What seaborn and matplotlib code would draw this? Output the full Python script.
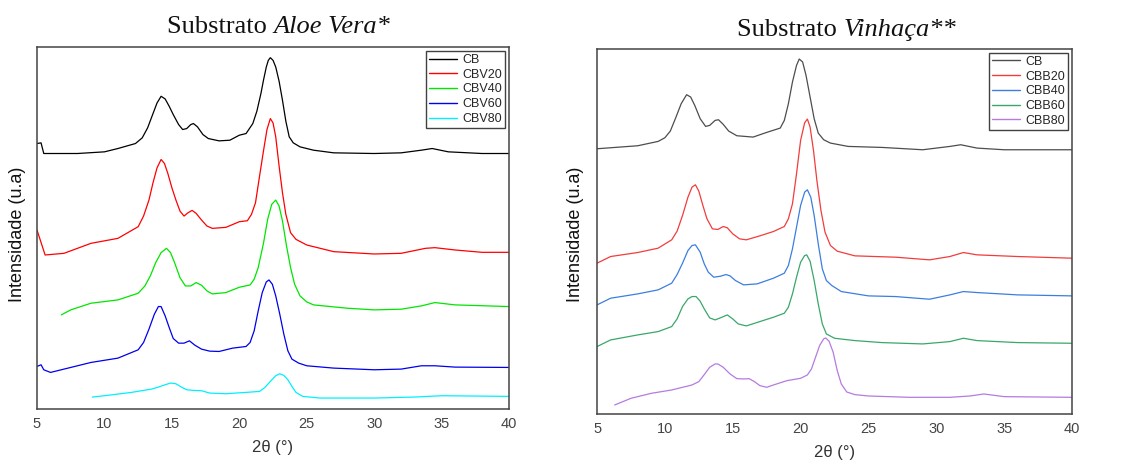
import numpy as np
import pandas as pd
import matplotlib
matplotlib.use("Agg")
import matplotlib.pyplot as plt
import seaborn as sns

# ---- data (intensity in arbitrary units) ----
# Substrato Aloe Vera
aloe_labels = ["CB", "CBV20", "CBV40", "CBV60", "CBV80"]
aloe_colors = ["#000000", "#ff0000", "#00e600", "#0000ee", "#00f0ff"]

cb_a_x = [5.0, 5.3, 5.5, 6, 8, 10, 11, 12.3, 12.8, 13.2, 13.6, 13.9, 14.2, 14.5, 14.8, 15.1, 15.5, 15.8, 16.1,
          16.4, 16.6, 16.9, 17.3, 17.7, 18.5, 19.3, 20, 20.5, 21.0, 21.3, 21.6, 21.8, 22.0, 22.15, 22.3, 22.5,
          22.7, 22.95, 23.2, 23.45, 23.7, 24.0, 24.5, 25.5, 27, 30, 32, 33.5, 34.3, 35.5, 38, 40]
cb_a_y = [798, 800, 768, 768, 768, 773, 783, 798, 815, 845, 888, 920, 940, 932, 910, 885, 855, 840, 843,
          855, 858, 848, 825, 813, 806, 808, 823, 828, 858, 895, 948, 990, 1028, 1048, 1056, 1048,
          1028, 985, 928, 865, 818, 800, 788, 778, 770, 768, 770, 778, 783, 773, 768, 768]

cbv20_x = [5, 5.6, 7, 9, 11, 12.5, 12.9, 13.3, 13.6, 13.9, 14.2, 14.45, 14.7, 15.0, 15.3, 15.6, 15.9, 16.2,
           16.5, 16.8, 17.2, 17.6, 18, 19, 20, 20.6, 20.9, 21.2, 21.5, 21.8, 22.05, 22.3, 22.5, 22.7, 22.95,
           23.2, 23.45, 23.8, 24.2, 25, 27, 30, 32, 33.8, 34.5, 36, 38, 40]
cbv20_y = [538, 463, 468, 498, 513, 548, 580, 628, 680, 725, 750, 738, 708, 665, 628, 595, 580, 590,
           597, 588, 568, 550, 543, 546, 563, 566, 585, 620, 700, 778, 840, 873, 860, 818, 730,
           650, 585, 530, 510, 493, 473, 466, 468, 483, 485, 478, 471, 471]

cbv40_x = [6.8, 7.5, 9, 11, 12.5, 13.0, 13.4, 13.8, 14.2, 14.6, 14.9, 15.2, 15.6, 16.0, 16.4, 16.8, 17.2, 17.6,
           18, 19, 20, 20.8, 21.1, 21.4, 21.8, 22.1, 22.4, 22.7, 22.95, 23.2, 23.5, 23.8, 24.1, 24.5, 25.0,
           25.5, 28, 30, 32, 33.5, 34.5, 36, 40]
cbv40_y = [283, 298, 318, 328, 348, 370, 400, 440, 470, 483, 470, 440, 395, 370, 370, 380, 372, 355,
           346, 350, 366, 373, 390, 425, 500, 570, 615, 628, 610, 565, 490, 425, 375, 340, 322,
           313, 303, 298, 300, 310, 320, 313, 308]

cbv60_x = [5, 5.3, 5.5, 6, 7, 9, 11, 12.5, 12.9, 13.3, 13.7, 14.0, 14.2, 14.5, 14.8, 15.1, 15.5, 15.9, 16.3,
           16.7, 17.2, 17.8, 18.5, 19.5, 20.5, 20.8, 21.1, 21.4, 21.7, 22.0, 22.2, 22.45, 22.7, 23.0, 23.3,
           23.6, 23.9, 24.4, 25, 27, 30, 32, 33.5, 34.5, 36, 40]
cbv60_y = [128, 133, 118, 110, 120, 140, 153, 178, 200, 240, 285, 308, 308, 280, 245, 212, 198, 198, 205,
           192, 180, 174, 173, 183, 188, 200, 235, 295, 350, 382, 388, 375, 340, 285, 225,
           175, 150, 138, 130, 123, 118, 120, 130, 130, 126, 125]

cbv80_x = [9.1, 10, 12, 13.5, 14.0, 14.5, 14.9, 15.3, 15.7, 16.1, 16.6, 17.2, 17.8, 19, 20.5, 21.5, 21.9,
           22.3, 22.7, 23.0, 23.3, 23.6, 23.9, 24.2, 24.7, 26, 30, 33, 35, 40]
cbv80_y = [36, 40, 50, 60, 66, 73, 78, 76, 66, 58, 56, 55, 48, 46, 50, 53, 65,
           83, 100, 106, 101, 88, 68, 50, 38, 33, 33, 36, 40, 38]

# Substrato Vinhaça
vin_labels = ["CB", "CBB20", "CBB40", "CBB60", "CBB80"]
vin_colors = ["#4d4d4d", "#f23c3c", "#3b7ee0", "#3aa76a", "#b57be0"]

cb_v_x = [5, 8, 9.5, 10.0, 10.4, 10.8, 11.2, 11.6, 11.9, 12.2, 12.6, 13.0, 13.3, 13.7, 13.95, 14.3, 14.7, 15.3,
          16.5, 17.5, 18.5, 18.8, 19.1, 19.4, 19.7, 19.9, 20.15, 20.4, 20.7, 21.0, 21.3, 21.7, 22.2, 23.5,
          26, 29, 31, 31.8, 33, 35, 40]
cb_v_y = [795, 804, 817, 828, 848, 888, 930, 957, 950, 925, 885, 862, 865, 880, 882, 868, 848, 834,
          830, 844, 857, 880, 930, 995, 1045, 1064, 1055, 1015, 950, 885, 842, 822, 812, 802,
          799, 792, 802, 807, 797, 792, 792]

cbb20_x = [5, 6, 8, 9.5, 10.5, 10.9, 11.3, 11.7, 12.0, 12.25, 12.5, 12.8, 13.1, 13.5, 13.9, 14.3, 14.6, 15.0,
           15.5, 16, 17, 18, 18.8, 19.1, 19.4, 19.7, 20.0, 20.3, 20.5, 20.7, 20.95, 21.2, 21.5, 21.8, 22.2,
           22.7, 24, 27, 29.5, 31, 32, 33, 36, 40]
cbb20_y = [452, 472, 484, 497, 522, 548, 595, 650, 680, 687, 668, 625, 585, 555, 553, 562, 558, 540,
           525, 522, 534, 547, 562, 585, 630, 720, 820, 873, 884, 860, 790, 700, 610, 545, 505,
           488, 474, 470, 462, 472, 484, 477, 472, 467]

cbb40_x = [5, 6, 8, 9.5, 10.5, 10.9, 11.3, 11.7, 12.0, 12.25, 12.6, 12.9, 13.2, 13.6, 14.1, 14.5, 14.8, 15.2,
           15.8, 16.8, 18, 18.8, 19.1, 19.4, 19.7, 20.0, 20.3, 20.5, 20.75, 21.0, 21.3, 21.6, 21.9, 22.3,
           23, 25, 27, 29.5, 31, 32, 33, 36, 40]
cbb40_y = [327, 347, 360, 372, 392, 418, 452, 490, 505, 507, 485, 450, 425, 410, 413, 418, 414, 400,
           387, 390, 407, 422, 445, 495, 560, 625, 665, 672, 650, 595, 510, 435, 400, 385,
           367, 354, 352, 344, 357, 367, 364, 357, 354]

cbb60_x = [5, 6, 8, 9.5, 10.5, 10.9, 11.3, 11.7, 12.0, 12.3, 12.6, 12.9, 13.3, 13.7, 14.2, 14.6, 15.0, 15.4,
           16, 17, 18, 18.8, 19.1, 19.4, 19.7, 20.0, 20.3, 20.45, 20.7, 21.0, 21.3, 21.6, 21.9, 22.5,
           24, 26, 29, 31, 32, 33, 36, 40]
cbb60_y = [202, 222, 237, 247, 262, 285, 322, 345, 352, 352, 338, 315, 288, 282, 290, 297, 285, 270,
           264, 277, 290, 302, 320, 360, 410, 455, 475, 477, 458, 400, 330, 270, 240, 227,
           220, 214, 210, 217, 227, 220, 214, 212]

cbb80_x = [6.3, 7.5, 9, 10.5, 12, 12.5, 12.9, 13.3, 13.7, 13.9, 14.3, 14.8, 15.3, 15.8, 16.2, 16.6, 17.0, 17.5,
           18, 19, 20, 20.5, 20.8, 21.1, 21.4, 21.7, 21.85, 22.1, 22.4, 22.7, 23.0, 23.4, 24, 25, 28, 31,
           32.5, 33.5, 35, 40]
cbb80_y = [27, 47, 62, 72, 87, 97, 118, 140, 150, 150, 140, 120, 106, 105, 106, 97, 85, 80,
           87, 100, 107, 117, 135, 170, 205, 225, 228, 218, 185, 130, 90, 66, 58, 54, 50, 50,
           54, 60, 52, 50]

x_ticks = [5, 10, 15, 20, 25, 30, 35, 40]


def build_frame(labels, xs, ys):
    rows = []
    for lab, xv, yv in zip(labels, xs, ys):
        rows.append(pd.DataFrame({"x": xv, "y": yv, "amostra": lab}))
    return pd.concat(rows, ignore_index=True)


df_aloe = build_frame(aloe_labels, [cb_a_x, cbv20_x, cbv40_x, cbv60_x, cbv80_x],
                      [cb_a_y, cbv20_y, cbv40_y, cbv60_y, cbv80_y])
df_vin = build_frame(vin_labels, [cb_v_x, cbb20_x, cbb40_x, cbb60_x, cbb80_x],
                     [cb_v_y, cbb20_y, cbb40_y, cbb60_y, cbb80_y])

sns.set_style("white")
plt.rcParams["font.family"] = ["Liberation Sans", "DejaVu Sans"]

fig = plt.figure(figsize=(11.25, 4.68), dpi=100)
ax1 = fig.add_axes([0.0329, 0.126, 0.4196, 0.7735])
ax2 = fig.add_axes([0.5307, 0.1154, 0.4222, 0.7799])


def draw_panel(ax, df, labels, colors, ymax, title_plain, title_it, title_x, title_y, ylab_x):
    sns.lineplot(data=df, x="x", y="y", hue="amostra", hue_order=labels,
                 palette=colors, estimator=None, sort=False, linewidth=0.9, ax=ax)
    ax.set_xlim(5, 40)
    ax.set_ylim(0, ymax)
    ax.set_xticks(x_ticks)
    ax.set_yticks([])
    ax.tick_params(axis="x", direction="out", length=3, width=0.8, colors="#444444",
                   labelsize=10.5, pad=3)
    for s in ax.spines.values():
        s.set_color("#444444")
        s.set_linewidth(1.1)
    ax.set_xlabel("2θ (°)", fontsize=12, color="#333333", labelpad=6)
    ax.set_ylabel("")
    fig.text(ylab_x, 0.5, "Intensidade (u.a)", rotation=90, fontsize=13,
             ha="center", va="center", color="#111111")
    leg = ax.legend(loc="upper right", fontsize=9, frameon=True, fancybox=False,
                    handlelength=2.3, labelspacing=0.22, borderpad=0.25,
                    handletextpad=0.4, borderaxespad=0.3)
    leg.get_frame().set_edgecolor("#111111")
    leg.get_frame().set_linewidth(1.0)
    for line in leg.get_lines():
        line.set_linewidth(1.0)
    t1 = fig.text(title_x, title_y, title_plain, fontsize=19,
                  family="Liberation Serif", ha="left", va="baseline", color="#111111")
    ax.annotate(title_it, xy=(1, 0), xycoords=t1, xytext=(0, 0), textcoords="offset points",
                fontsize=19, family="Liberation Serif", style="italic",
                ha="left", va="bottom", color="#111111")


draw_panel(ax1, df_aloe, aloe_labels, aloe_colors, 1088,
           "Substrato ", "Aloe Vera*", 167 / 1125, 1 - 33 / 468, 18 / 1125)
draw_panel(ax2, df_vin, vin_labels, vin_colors, 1094,
           "Substrato ", "Vinhaça**", 737 / 1125, 1 - 36 / 468, 575 / 1125)

fig.savefig("out.png", dpi=100)
